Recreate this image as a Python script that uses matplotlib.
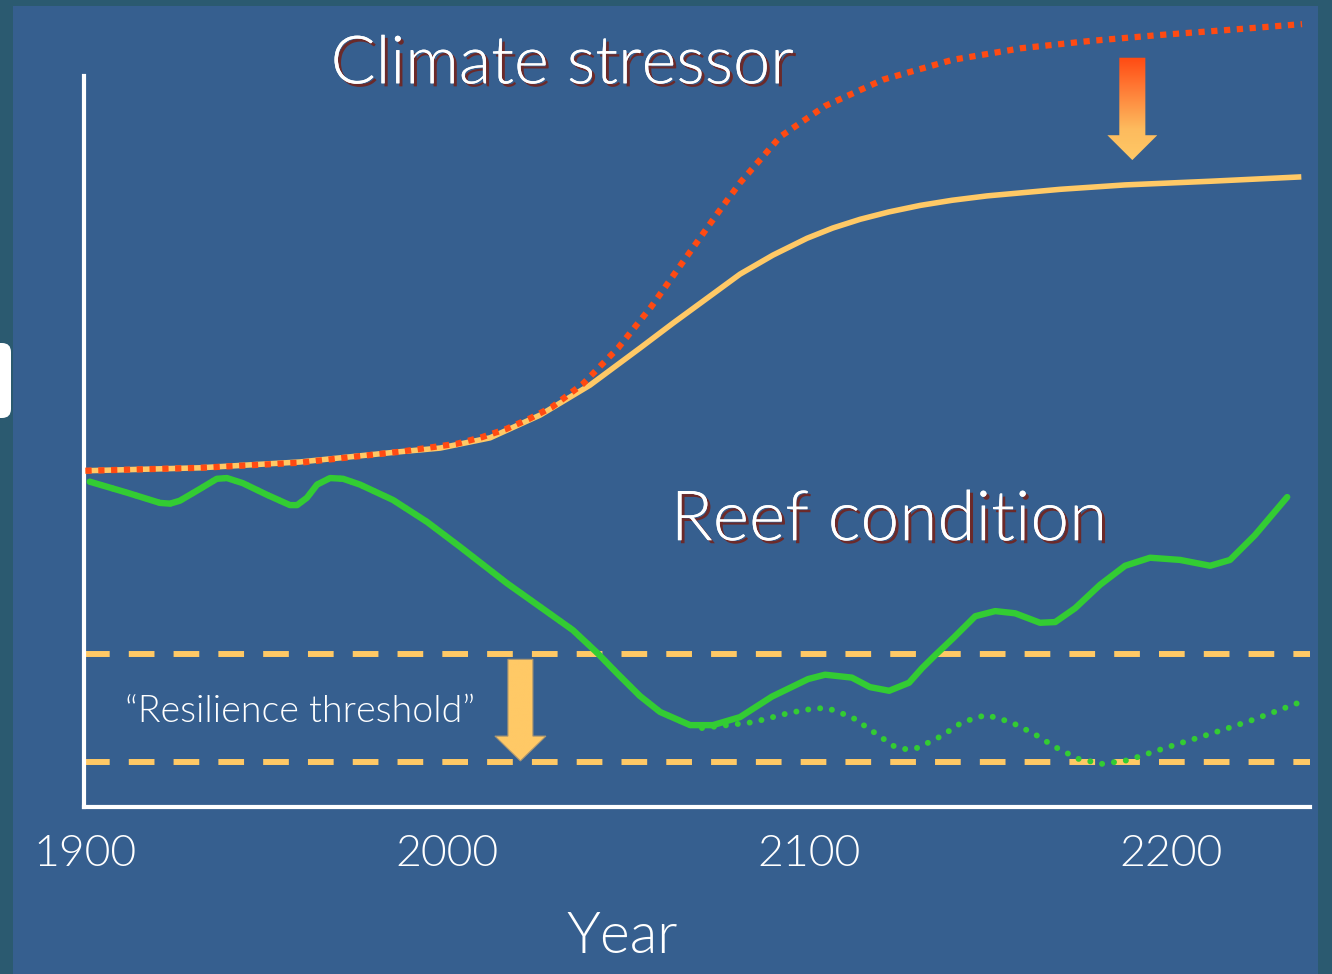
import matplotlib.pyplot as plt
import matplotlib.patheffects as pe
import numpy as np
from matplotlib.patches import Rectangle, FancyBboxPatch, Polygon
from matplotlib.colors import LinearSegmentedColormap
from matplotlib.transforms import IdentityTransform

plt.rcParams['font.family'] = ['Lato', 'DejaVu Sans']
plt.rcParams['font.weight'] = 300

# climate stressor without management (dotted) and with it (solid)
stress_years = [1900, 1931.6, 1959.3, 1986.9, 2002.7, 2009.6, 2016.2, 2022.6, 2028.9, 2037.5,
                2047.2, 2056.3, 2066.3, 2074.5, 2080.9, 2092.0, 2104.4, 2120.4, 2139.5, 2158.6,
                2177.7, 2196.7, 2215.8, 2236.2]
stress_high = [46.0, 46.4, 47.1, 48.6, 49.7, 50.6, 51.7, 53.1, 54.7, 57.9,
               62.8, 68.4, 75.4, 81.1, 85.4, 91.7, 95.9, 99.5, 102.2, 103.8,
               104.8, 105.6, 106.3, 107.1]
reduced_years = [1900, 1931.6, 1959.3, 1986.9, 1998.0, 2011.8, 2025.6, 2039.4, 2053.3, 2062.4,
                 2071.8, 2080.9, 2090.0, 2099.4, 2106.5, 2114.1, 2122.0, 2130.7, 2139.5, 2149.2,
                 2169.4, 2187.3, 2210.8, 2236.0]
stress_reduced = [46.0, 46.4, 47.2, 48.6, 49.1, 50.5, 53.6, 57.7, 62.8, 66.2,
                  69.6, 72.9, 75.5, 77.8, 79.2, 80.4, 81.4, 82.3, 83.0, 83.6,
                  84.5, 85.1, 85.6, 86.2]

# reef condition, with reduced stress (solid)
reef_years = [1901.2, 1911.5, 1920.6, 1923.4, 1926.1, 1931.6, 1936.3, 1939.1, 1943.5, 1950.2,
              1956.5, 1958.5, 1961.2, 1964.0, 1967.6, 1971.2, 1975.9, 1985.0, 1994.4, 2003.5,
              2016.5, 2025.6, 2034.7, 2041.4, 2046.9, 2053.2, 2058.8, 2067.1, 2073.4, 2080.9,
              2089.7, 2099.7, 2104.4, 2111.8, 2116.8, 2122.1, 2127.6, 2131.2, 2135.1, 2139.8,
              2145.9, 2151.4, 2156.9, 2163.8, 2168.0, 2173.5, 2180.4, 2187.3, 2194.2, 2202.5,
              2210.8, 2216.3, 2223.2, 2232.1]
reef_good = [44.5, 43.0, 41.6, 41.5, 41.9, 43.5, 44.9, 45.0, 44.3, 42.7,
             41.3, 41.3, 42.3, 44.1, 45.0, 44.9, 44.1, 42.0, 39.0, 35.6,
             30.6, 27.4, 24.2, 21.1, 18.3, 15.2, 13.0, 11.2, 11.2, 12.3,
             15.1, 17.5, 18.1, 17.7, 16.4, 15.9, 17.0, 19.0, 20.9, 23.1,
             26.1, 26.8, 26.5, 25.2, 25.3, 27.2, 30.4, 33.0, 34.1, 33.8,
             33.0, 33.8, 37.2, 42.4]
# reef condition under full stress diverges after ~2067 (dotted)
poor_years = [2070.4, 2084.5, 2094.7, 2101.6, 2105.2, 2111.8, 2117.7, 2123.5, 2126.8, 2130.1,
              2136.5, 2142.3, 2148.9, 2155.8, 2162.2, 2168.0, 2174.3, 2181.0, 2188.1, 2194.8,
              2201.7, 2208.3, 2215.2, 2221.9, 2228.5, 2234.9]
reef_poor = [10.8, 11.6, 12.9, 13.5, 13.5, 12.3, 10.3, 8.3, 7.9, 8.1,
             9.7, 11.6, 12.6, 11.6, 10.0, 8.2, 6.6, 5.9, 6.4, 7.5,
             8.6, 9.6, 10.7, 11.8, 13.0, 14.2]

threshold_levels = [20.9, 6.2]
tick_years = [1900, 2000, 2100, 2200]

BLUE = '#365F8F'
TEAL = '#2B5A70'
YELLOW = '#FFC966'
RED = '#FF4A12'
GREEN = '#33CC33'
SHADOW = '#6B2A2A'

fig = plt.figure(figsize=(13.32, 9.74), dpi=100, facecolor=TEAL)
fig.patches.append(Rectangle((13 / 1332, 0), (1318 - 13) / 1332, 968 / 974,
                             transform=fig.transFigure, facecolor=BLUE, edgecolor='none', zorder=-2))
fig.patches.append(FancyBboxPatch((-30, 974 - 418), 41, 75, boxstyle='round,pad=0,rounding_size=9',
                                  transform=IdentityTransform(), facecolor='white', edgecolor='none',
                                  zorder=-1))

ax = fig.add_axes([84 / 1332, (974 - 807) / 974, (1310 - 84) / 1332, (807 - 76) / 974])
ax.set_facecolor('none')
ax.set_xlim(1899.6, 2238.4)
ax.set_ylim(0, 100)
for s in ['top', 'right']:
    ax.spines[s].set_visible(False)
for s in ['left', 'bottom']:
    ax.spines[s].set_color('white')
    ax.spines[s].set_linewidth(3)
ax.set_yticks([])
ax.set_xticks(tick_years)
ax.set_xticklabels([str(t) for t in tick_years])
ax.tick_params(axis='x', length=0, labelsize=32, labelcolor='white', pad=20)

for lvl in threshold_levels:
    ax.axhline(lvl, color=YELLOW, lw=4.3, dashes=(4.3, 3.2), dash_capstyle='butt', zorder=2)

ax.plot(reduced_years, stress_reduced, color=YELLOW, lw=4.0,
        solid_capstyle='butt', solid_joinstyle='round', clip_on=False, zorder=3)
ax.plot(stress_years, stress_high, color=RED, lw=4.5, dashes=(1, 1.05),
        dash_capstyle='butt', clip_on=False, zorder=4)

n_keep = reef_years.index(2067.1) + 1
ax.plot(reef_years[:n_keep] + poor_years, reef_good[:n_keep] + reef_poor, color=GREEN, lw=4.3,
        dashes=(0.01, 2.0), dash_capstyle='round', clip_on=False, zorder=3)
ax.plot(reef_years, reef_good, color=GREEN, lw=4.6, solid_capstyle='round',
        solid_joinstyle='round', clip_on=False, zorder=5)


def down_arrow(xc, top, base, tip, half_shaft, half_head, colors, edge='none'):
    verts = [(xc - half_shaft, top), (xc + half_shaft, top), (xc + half_shaft, base),
             (xc + half_head, base), (xc, tip), (xc - half_head, base), (xc - half_shaft, base)]
    poly = Polygon(verts, closed=True, facecolor='none', edgecolor=edge, lw=0.8,
                   clip_on=False, zorder=7)
    ax.add_patch(poly)
    grad = np.linspace(0, 1, 256).reshape(-1, 1)
    cmap = LinearSegmentedColormap.from_list('arr', colors)
    im = ax.imshow(grad, cmap=cmap, extent=(xc - half_head, xc + half_head, tip, top),
                   aspect='auto', origin='upper', zorder=6, interpolation='bilinear')
    im.set_clip_path(poly)
    im.set_clip_box(fig.bbox)


# stress-reduction arrow and threshold-shift arrow
down_arrow(2189.3, 102.5, 91.9, 88.5, 3.6, 6.9, [(0, RED), (0.3, '#FF7A35'), (0.7, '#FDBB5E'), (1, YELLOW)])
down_arrow(2020.2, 20.2, 9.7, 6.3, 3.45, 7.05, [YELLOW, YELLOW], edge='#A89572')
ax.set_xlim(1899.6, 2238.4)
ax.set_ylim(0, 100)

shadow = [pe.withSimplePatchShadow(offset=(2.2, -2.2), shadow_rgbFace=SHADOW, alpha=1.0), pe.Normal()]
ax.text(2031.7, 99.0, 'Climate stressor', color='white', fontsize=48, ha='center', va='baseline',
        path_effects=shadow, clip_on=False, zorder=8)
ax.text(2122.1, 36.5, 'Reef condition', color='white', fontsize=50, ha='center', va='baseline',
        path_effects=shadow, clip_on=False, zorder=8)
ax.text(1959.3, 11.6, '\u201cResilience threshold\u201d', color='white', fontsize=27,
        ha='center', va='baseline', clip_on=False, zorder=8)
ax.text(2048.3, -20.0, 'Year', color='white', fontsize=41, ha='center', va='baseline',
        clip_on=False)

fig.savefig('out.png', dpi=100, facecolor=TEAL)
